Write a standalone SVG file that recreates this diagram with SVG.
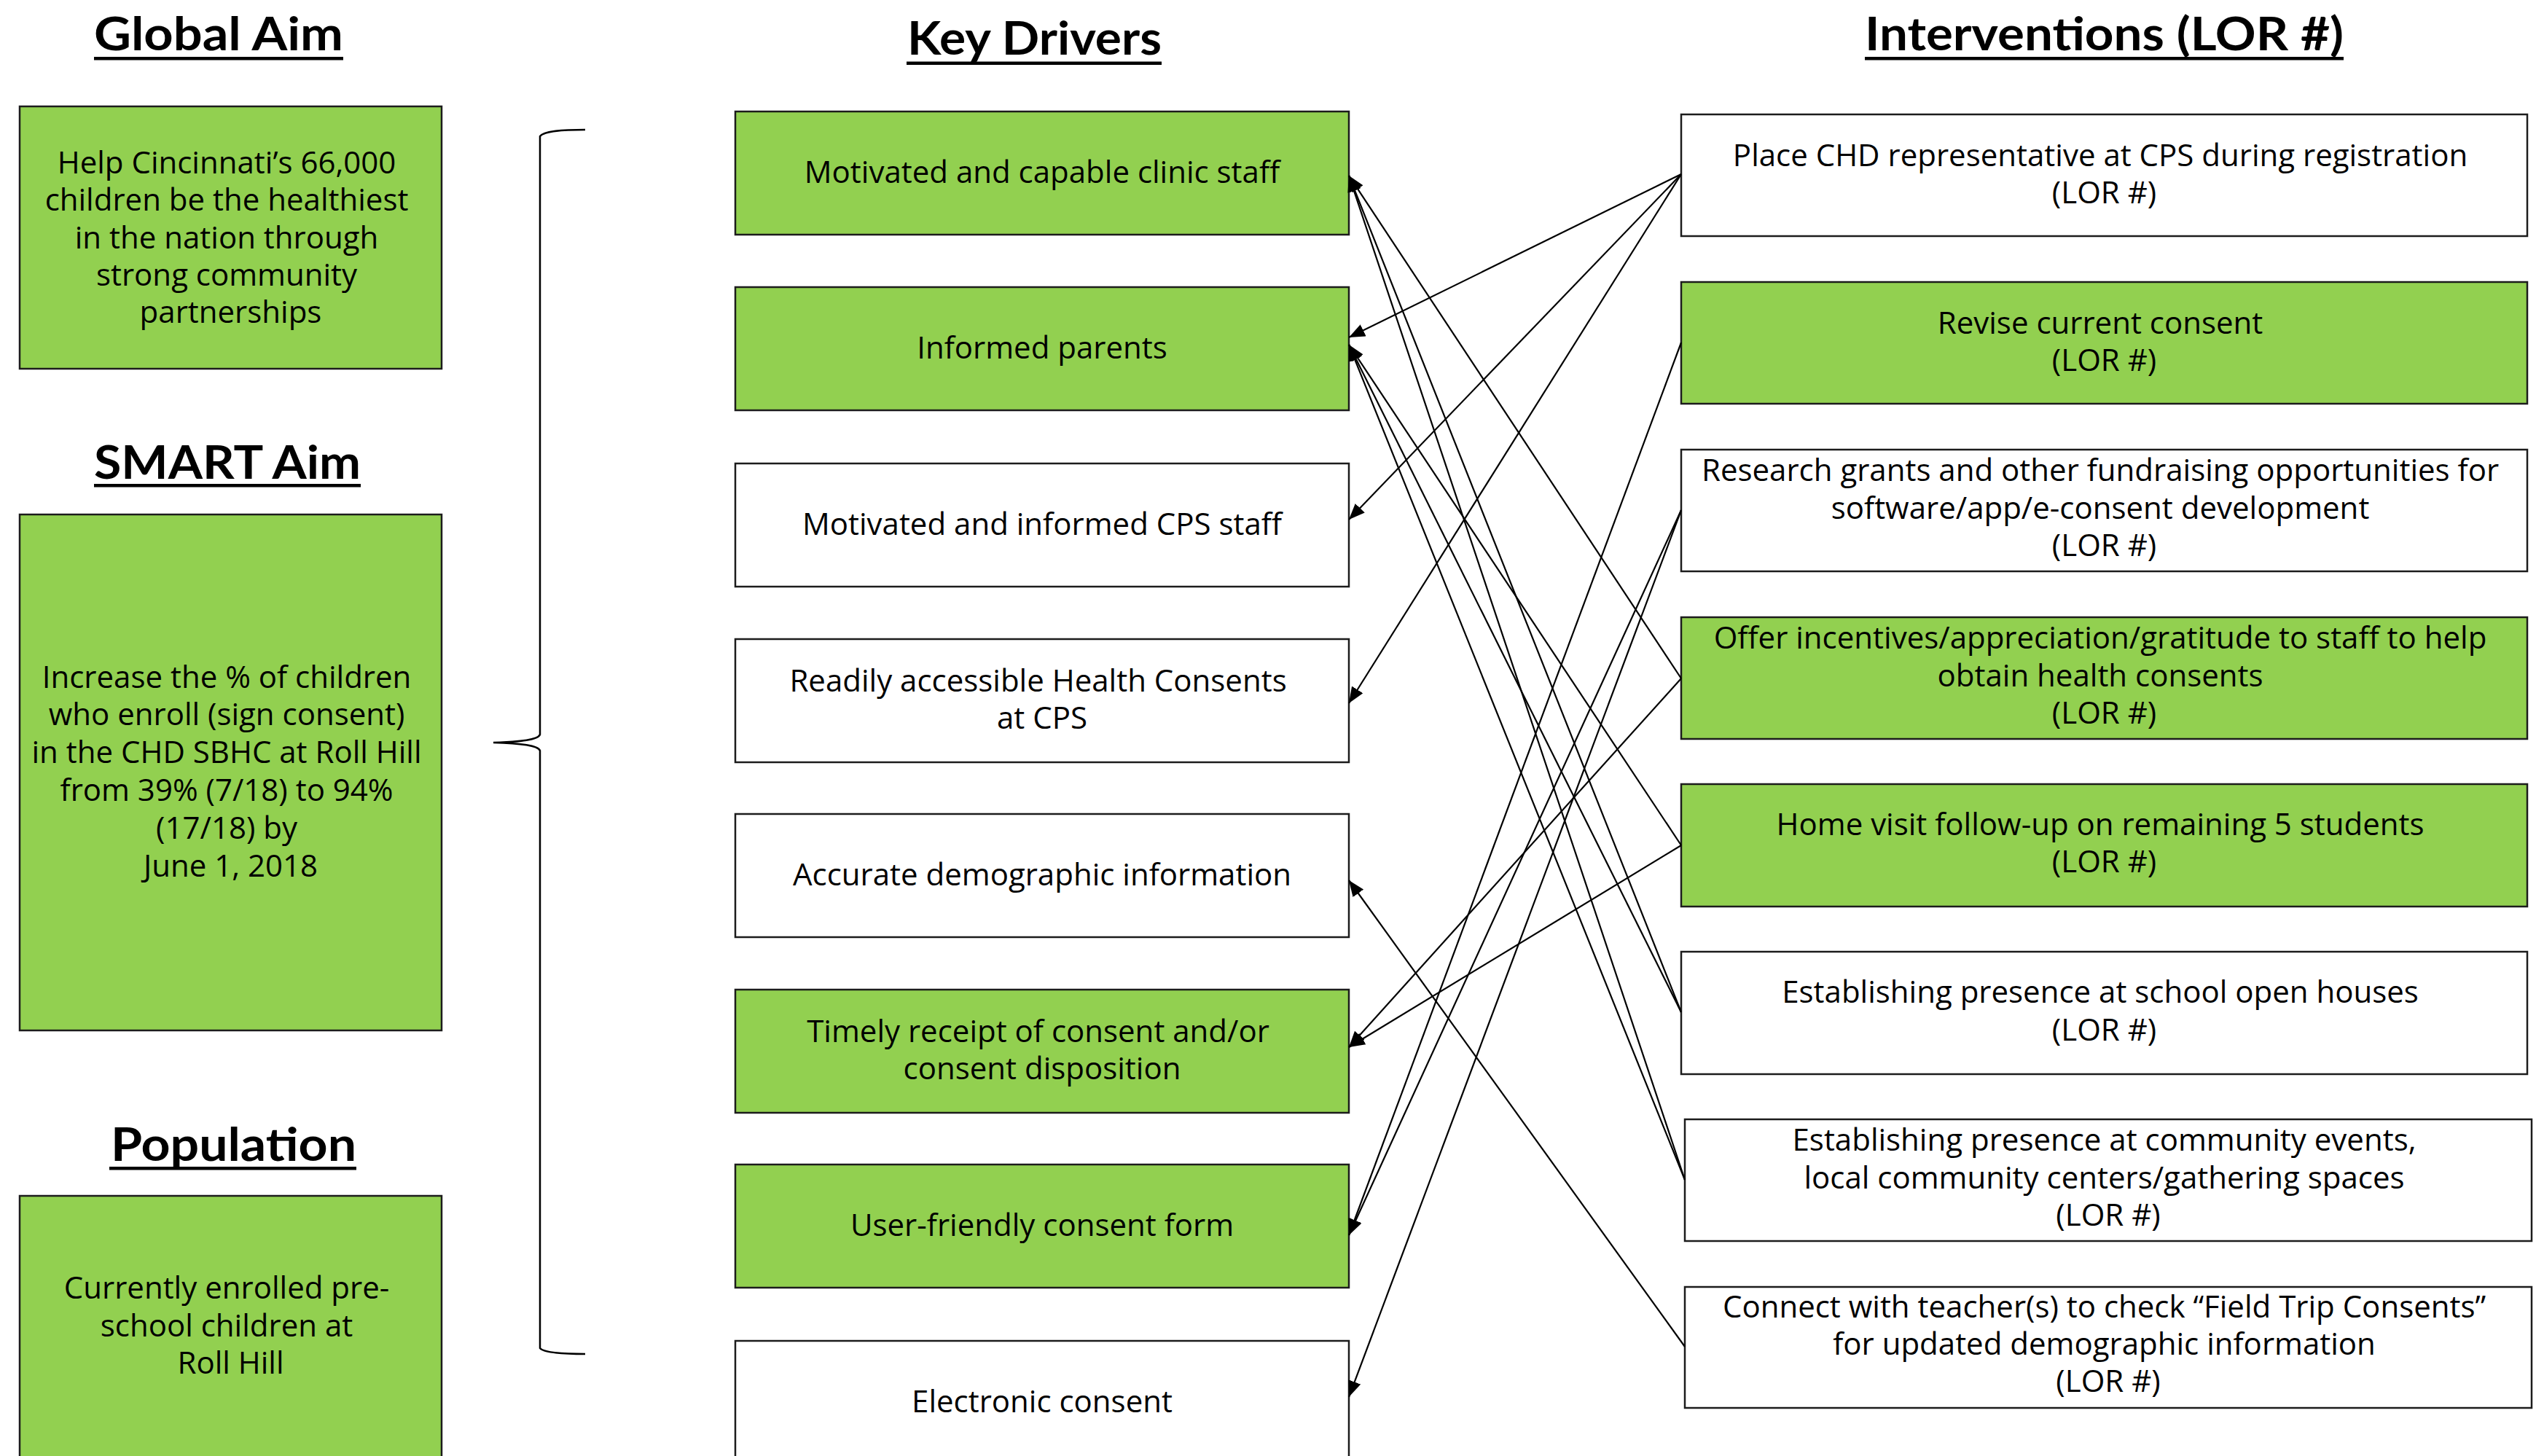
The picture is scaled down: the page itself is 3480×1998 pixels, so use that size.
<svg xmlns="http://www.w3.org/2000/svg" width="3480" height="1998" viewBox="0 0 3480 1998">
  <style>
    .box { stroke: #1c1c1c; stroke-width: 2.5; }
    .g { fill: #92D050; }
    .w { fill: #ffffff; }
    .t { font-family: "Open Sans", "Noto Sans", sans-serif; font-size: 42px; fill: #000; text-anchor: middle; }
    .h { font-family: Lato, "Liberation Sans", sans-serif; font-weight: 700; font-size: 64px; fill: #000; }
    .ul { fill: #000; }
    #connectors line { stroke: #000; stroke-width: 2.2; fill: none; marker-end: url(#arrow); }
    .brace { fill: none; stroke: #000; stroke-width: 2.5; }
  </style>
  <defs>
    <marker id="arrow" markerUnits="userSpaceOnUse" viewBox="0 0 22 18" markerWidth="22" markerHeight="18" refX="22" refY="9" orient="auto">
      <path d="M0,0 L22,9 L0,18 z" fill="#000"/>
    </marker>
  </defs>
  <rect width="3480" height="1998" fill="#ffffff"/>

  <!-- column headings -->
  <g id="headings">
    <text class="h" x="129" y="69" textLength="342" lengthAdjust="spacingAndGlyphs">Global Aim</text>
    <rect class="ul" x="129" y="78" width="342" height="4.5"/>
    <text class="h" x="129" y="657" textLength="366" lengthAdjust="spacingAndGlyphs">SMART Aim</text>
    <rect class="ul" x="129" y="664" width="366" height="4.5"/>
    <text class="h" x="152" y="1593" textLength="337" lengthAdjust="spacingAndGlyphs">Population</text>
    <rect class="ul" x="150" y="1601" width="339" height="4.5"/>
    <text class="h" x="1245" y="75" textLength="349" lengthAdjust="spacingAndGlyphs">Key Drivers</text>
    <rect class="ul" x="1244" y="84.5" width="350" height="4.5"/>
    <text class="h" x="2559" y="69" textLength="657" lengthAdjust="spacingAndGlyphs">Interventions (LOR #)</text>
    <rect class="ul" x="2559" y="78" width="657" height="4.5"/>
  </g>

  <!-- aims -->
  <g id="global-aim">
    <rect class="box g" x="27" y="146" width="579" height="360"/>
    <text class="t">
      <tspan x="316.5" y="238">Help Cincinnati’s 66,000</tspan>
      <tspan x="316.5" y="289">children be the healthiest</tspan>
      <tspan x="316.5" y="341">in the nation through</tspan>
      <tspan x="316.5" y="392">strong community</tspan>
      <tspan x="316.5" y="443">partnerships</tspan>
    </text>
  </g>
  <g id="smart-aim">
    <rect class="box g" x="27" y="706" width="579" height="708"/>
    <text class="t">
      <tspan x="316.5" y="944">Increase the % of children</tspan>
      <tspan x="316.5" y="995">who enroll (sign consent)</tspan>
      <tspan x="316.5" y="1047">in the CHD SBHC at Roll Hill</tspan>
      <tspan x="316.5" y="1099">from 39% (7/18) to 94%</tspan>
      <tspan x="316.5" y="1151">(17/18) by</tspan>
      <tspan x="316.5" y="1203">June 1, 2018</tspan>
    </text>
  </g>
  <g id="population">
    <rect class="box g" x="27" y="1641" width="579" height="372"/>
    <text class="t">
      <tspan x="316.5" y="1782">Currently enrolled pre-</tspan>
      <tspan x="316.5" y="1834">school children at</tspan>
      <tspan x="316.5" y="1885">Roll Hill</tspan>
    </text>
  </g>

  <!-- brace grouping the aims to the drivers -->
  <path class="brace" d="M803,178 C768,178 746,180 741,187 L741,1008 C738,1015 716,1018 677,1019 C716,1020 738,1023 741,1030 L741,1850 C746,1856 768,1858 803,1858"/>

  <!-- key drivers -->
  <g id="driver-1">
    <rect class="box g" x="1009" y="153" width="842" height="169"/>
    <text class="t" x="1430" y="251">Motivated and capable clinic staff</text>
  </g>
  <g id="driver-2">
    <rect class="box g" x="1009" y="394" width="842" height="169"/>
    <text class="t" x="1430" y="492">Informed parents</text>
  </g>
  <g id="driver-3">
    <rect class="box w" x="1009" y="636" width="842" height="169"/>
    <text class="t" x="1430" y="734">Motivated and informed CPS staff</text>
  </g>
  <g id="driver-4">
    <rect class="box w" x="1009" y="877" width="842" height="169"/>
    <text class="t">
      <tspan x="1430" y="949">Readily accessible Health Consents</tspan>
      <tspan x="1430" y="1000">at CPS</tspan>
    </text>
  </g>
  <g id="driver-5">
    <rect class="box w" x="1009" y="1117" width="842" height="169"/>
    <text class="t" x="1430" y="1215">Accurate demographic information</text>
  </g>
  <g id="driver-6">
    <rect class="box g" x="1009" y="1358" width="842" height="169"/>
    <text class="t">
      <tspan x="1430" y="1430">Timely receipt of consent and/or</tspan>
      <tspan x="1430" y="1481">consent disposition</tspan>
    </text>
  </g>
  <g id="driver-7">
    <rect class="box g" x="1009" y="1598" width="842" height="169"/>
    <text class="t" x="1430" y="1696">User-friendly consent form</text>
  </g>
  <g id="driver-8">
    <rect class="box w" x="1009" y="1840" width="842" height="169"/>
    <text class="t" x="1430" y="1938">Electronic consent</text>
  </g>

  <!-- interventions -->
  <g id="intervention-1">
    <rect class="box w" x="2307" y="157" width="1161" height="167"/>
    <text class="t">
      <tspan x="2887.5" y="228">Place CHD representative at CPS during registration</tspan>
      <tspan x="2887.5" y="279">(LOR #)</tspan>
    </text>
  </g>
  <g id="intervention-2">
    <rect class="box g" x="2307" y="387" width="1161" height="167"/>
    <text class="t">
      <tspan x="2887.5" y="458">Revise current consent</tspan>
      <tspan x="2887.5" y="509">(LOR #)</tspan>
    </text>
  </g>
  <g id="intervention-3">
    <rect class="box w" x="2307" y="617" width="1161" height="167"/>
    <text class="t">
      <tspan x="2887.5" y="660">Research grants and other fundraising opportunities for</tspan>
      <tspan x="2887.5" y="712">software/app/e-consent development</tspan>
      <tspan x="2887.5" y="763">(LOR #)</tspan>
    </text>
  </g>
  <g id="intervention-4">
    <rect class="box g" x="2307" y="847" width="1161" height="167"/>
    <text class="t">
      <tspan x="2887.5" y="890">Offer incentives/appreciation/gratitude to staff to help</tspan>
      <tspan x="2887.5" y="942">obtain health consents</tspan>
      <tspan x="2887.5" y="993">(LOR #)</tspan>
    </text>
  </g>
  <g id="intervention-5">
    <rect class="box g" x="2307" y="1076" width="1161" height="168"/>
    <text class="t">
      <tspan x="2887.5" y="1146">Home visit follow-up on remaining 5 students</tspan>
      <tspan x="2887.5" y="1197">(LOR #)</tspan>
    </text>
  </g>
  <g id="intervention-6">
    <rect class="box w" x="2307" y="1306" width="1161" height="168"/>
    <text class="t">
      <tspan x="2887.5" y="1376">Establishing presence at school open houses</tspan>
      <tspan x="2887.5" y="1428">(LOR #)</tspan>
    </text>
  </g>
  <g id="intervention-7">
    <rect class="box w" x="2312" y="1536" width="1162" height="167"/>
    <text class="t">
      <tspan x="2893" y="1579">Establishing presence at community events,</tspan>
      <tspan x="2893" y="1631">local community centers/gathering spaces</tspan>
      <tspan x="2893" y="1682">(LOR #)</tspan>
    </text>
  </g>
  <g id="intervention-8">
    <rect class="box w" x="2312" y="1766" width="1162" height="166"/>
    <text class="t">
      <tspan x="2893" y="1808">Connect with teacher(s) to check “Field Trip Consents”</tspan>
      <tspan x="2893" y="1859">for updated demographic information</tspan>
      <tspan x="2893" y="1910">(LOR #)</tspan>
    </text>
  </g>

  <!-- connectors: intervention -> key driver -->
  <g id="connectors">
    <line x1="2307" y1="239" x2="1851" y2="463"/>
    <line x1="2307" y1="239" x2="1851" y2="713"/>
    <line x1="2307" y1="239" x2="1851" y2="965"/>
    <line x1="2307" y1="470" x2="1851" y2="1695"/>
    <line x1="2307" y1="700" x2="1851" y2="1695"/>
    <line x1="2307" y1="700" x2="1851" y2="1917"/>
    <line x1="2307" y1="931" x2="1851" y2="241"/>
    <line x1="2307" y1="931" x2="1851" y2="1437"/>
    <line x1="2307" y1="1160" x2="1851" y2="473"/>
    <line x1="2307" y1="1160" x2="1851" y2="1437"/>
    <line x1="2307" y1="1389" x2="1851" y2="241"/>
    <line x1="2307" y1="1389" x2="1851" y2="473"/>
    <line x1="2312" y1="1619" x2="1851" y2="241"/>
    <line x1="2312" y1="1619" x2="1851" y2="473"/>
    <line x1="2312" y1="1848" x2="1851" y2="1208"/>
  </g>
</svg>
